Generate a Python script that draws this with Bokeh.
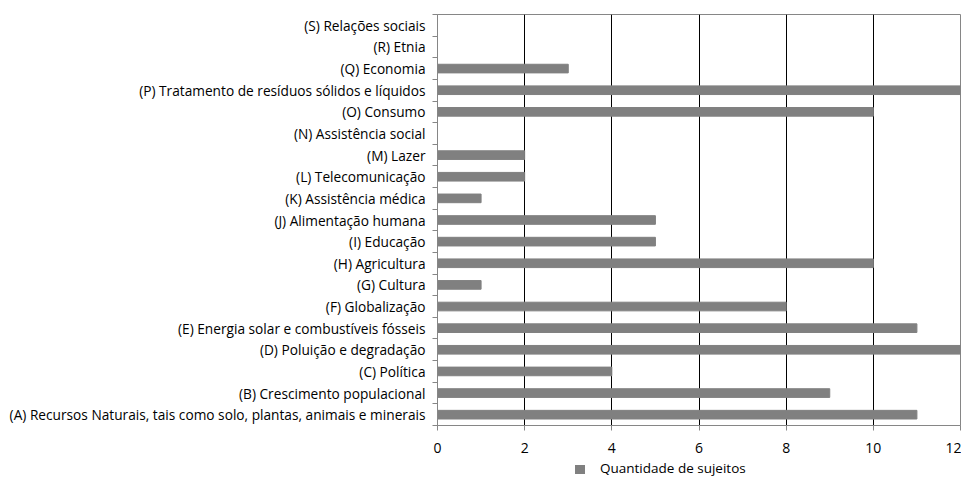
from bokeh.plotting import figure
from bokeh.layouts import column
from bokeh.models import FixedTicker, Range1d, ColumnDataSource, Div
from bokeh.embed import file_html
from bokeh.resources import INLINE

categories = [
    "(A) Recursos Naturais, tais como solo, plantas, animais e minerais",
    "(B) Crescimento populacional",
    "(C) Política",
    "(D) Poluição e degradação",
    "(E) Energia solar e combustíveis fósseis",
    "(F) Globalização",
    "(G) Cultura",
    "(H) Agricultura",
    "(I) Educação",
    "(J) Alimentação humana",
    "(K) Assistência médica",
    "(L) Telecomunicação",
    "(M) Lazer",
    "(N) Assistência social",
    "(O) Consumo",
    "(P) Tratamento de resíduos sólidos e líquidos",
    "(Q) Economia",
    "(R) Etnia",
    "(S) Relações sociais",
]
values = [11, 9, 4, 12, 11, 8, 1, 10, 5, 5, 1, 2, 2, 0, 10, 12, 3, 0, 0]
x_ticks = [0, 2, 4, 6, 8, 10, 12]
series_name = "Quantidade de sujeitos"

FONT = "Open Sans"
BAR = "#808080"
n = len(categories)
centers = [i + 0.5 for i in range(n)]
src = ColumnDataSource(dict(y=centers, v=values, cat=categories))

p = figure(width=961, height=455, output_backend="svg", toolbar_location=None,
           x_range=Range1d(0, 12), y_range=Range1d(0, n),
           min_border_left=437, min_border_right=1, min_border_top=14, min_border_bottom=0)
p.background_fill_color = "white"
p.border_fill_color = "white"
p.outline_line_color = "#868686"

r = p.hbar(y="y", right="v", left=0, height=0.4, color=BAR, source=src)

# x axis
p.xaxis.ticker = FixedTicker(ticks=x_ticks)
p.xaxis.axis_line_color = "#868686"
p.xaxis.major_tick_line_color = "#868686"
p.xaxis.major_tick_out = 5
p.xaxis.major_tick_in = 0
p.xaxis.minor_tick_line_color = None
p.xaxis.major_label_standoff = 12
p.xaxis.major_label_text_font = FONT
p.xaxis.major_label_text_font_size = "14px"
p.xaxis.major_label_text_color = "black"

# y axis
p.yaxis.ticker = FixedTicker(ticks=centers, minor_ticks=list(range(n + 1)))
p.yaxis.major_label_overrides = {c: lab for c, lab in zip(centers, categories)}
p.yaxis.axis_line_color = "#868686"
p.yaxis.major_tick_line_color = None
p.yaxis.major_tick_out = 0
p.yaxis.major_tick_in = 0
p.yaxis.minor_tick_line_color = "#868686"
p.yaxis.minor_tick_out = 5
p.yaxis.minor_tick_in = 0
p.yaxis.major_label_standoff = 7
p.yaxis.major_label_text_font = FONT
p.yaxis.major_label_text_font_size = "13.7px"
p.yaxis.major_label_text_color = "black"

p.xgrid.grid_line_color = "black"
p.xgrid.grid_line_width = 1
p.ygrid.grid_line_color = None

# legend strip below the chart
legend_html = (
    f'<div style="display:flex;align-items:flex-end;height:22px;padding-left:575px;'
    f'font-family:\'{FONT}\';font-size:13.5px;line-height:18px;color:black;white-space:nowrap;">'
    f'<span style="display:inline-block;width:10px;height:9px;margin-bottom:3px;background:{BAR};"></span>'
    f'<span style="margin-left:15px;">{series_name}</span></div>'
)
lg = Div(text=legend_html, width=961, height=22, margin=0)

layout = column(p, lg, spacing=0)
open("out.html", "w").write(file_html(layout, INLINE))
